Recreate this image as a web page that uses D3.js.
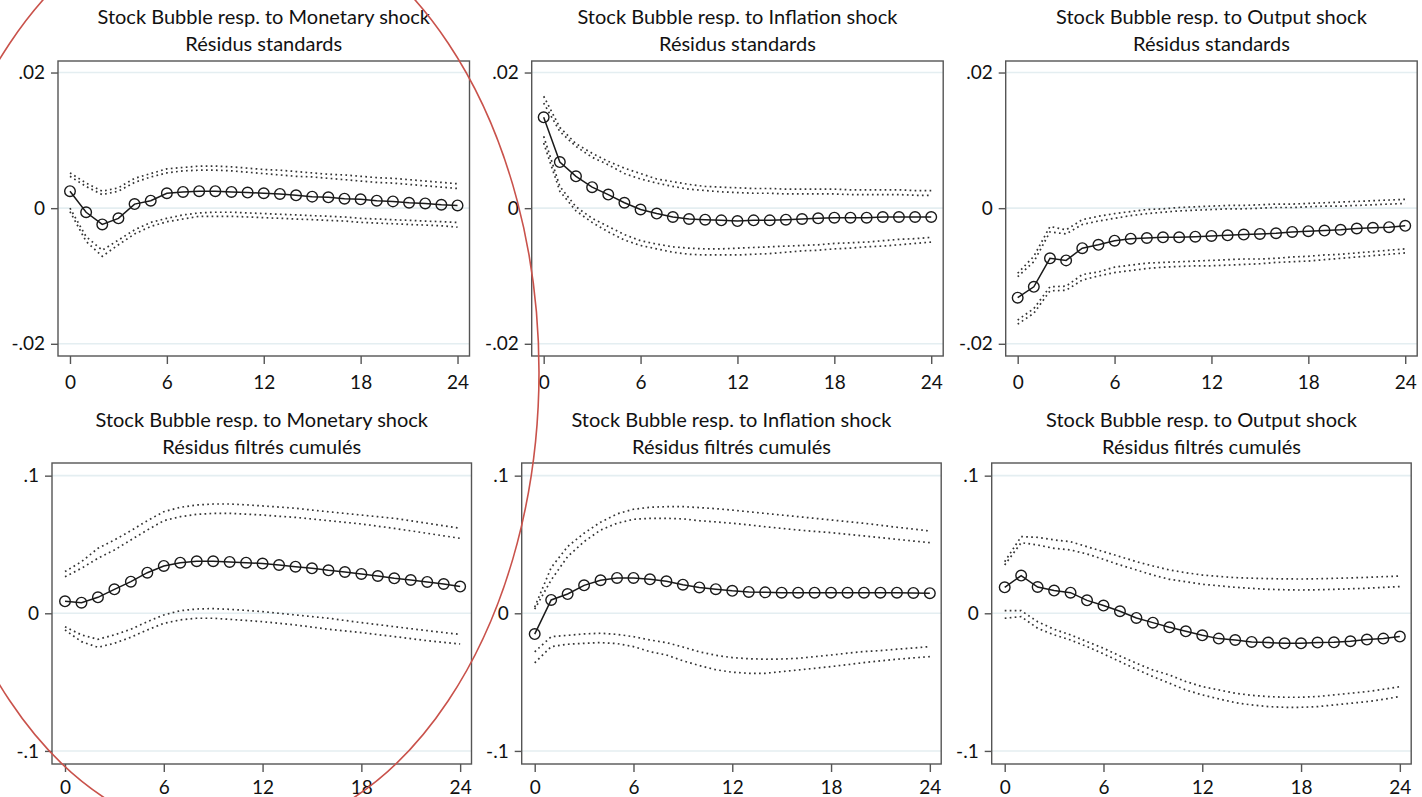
<!DOCTYPE html>
<html>
<head>
<meta charset="utf-8">
<script src="https://cdn.jsdelivr.net/npm/d3@7"></script>
<style>
  html, body { margin: 0; padding: 0; background: #ffffff; }
  svg { display: block; }
  text { font-family: Lato, "Open Sans", sans-serif; fill: #111; }
</style>
</head>
<body>
<script>
// ---------------- DATA ----------------
const steps = [0,1,2,3,4,5,6,7,8,9,10,11,12,13,14,15,16,17,18,19,20,21,22,23,24];
const xTickValues = [0, 6, 12, 18, 24];
const yTicksStd = [-0.02, 0, 0.02];
const yTickLabelsStd = ["-.02", "0", ".02"];
const yTicksCum = [-0.1, 0, 0.1];
const yTickLabelsCum = ["-.1", "0", ".1"];

const titlesLine1 = [
  "Stock Bubble resp. to Monetary shock",
  "Stock Bubble resp. to Inflation shock",
  "Stock Bubble resp. to Output shock"
];
const titlesLine2 = ["Résidus standards", "Résidus filtrés cumulés"];

// Top row: Résidus standards
const monStdIrf     = [0.0025,-0.0006,-0.0024,-0.0015,0.0006,0.0011,0.0022,0.0024,0.0025,0.0025,0.0024,0.0023,0.0022,0.0021,0.0019,0.0017,0.0016,0.0014,0.0013,0.0011,0.0010,0.0008,0.0007,0.0005,0.0004];
const monStdUpOuter = [0.0052,0.0037,0.0025,0.0030,0.0044,0.0051,0.0058,0.0060,0.0062,0.0062,0.0061,0.0059,0.0057,0.0056,0.0054,0.0052,0.0050,0.0049,0.0047,0.0045,0.0044,0.0042,0.0040,0.0038,0.0036];
const monStdUpInner = [0.0047,0.0032,0.0020,0.0025,0.0038,0.0046,0.0052,0.0055,0.0056,0.0056,0.0055,0.0053,0.0051,0.0049,0.0047,0.0046,0.0044,0.0042,0.0040,0.0038,0.0037,0.0035,0.0033,0.0031,0.0029];
const monStdLoInner = [0.0000,-0.0042,-0.0062,-0.0047,-0.0032,-0.0021,-0.0015,-0.0010,-0.0007,-0.0006,-0.0006,-0.0007,-0.0008,-0.0009,-0.0010,-0.0011,-0.0012,-0.0013,-0.0015,-0.0016,-0.0017,-0.0018,-0.0019,-0.0020,-0.0021];
const monStdLoOuter = [-0.0005,-0.0049,-0.0071,-0.0054,-0.0038,-0.0027,-0.0020,-0.0016,-0.0012,-0.0012,-0.0012,-0.0013,-0.0014,-0.0015,-0.0016,-0.0017,-0.0018,-0.0019,-0.0021,-0.0022,-0.0023,-0.0024,-0.0025,-0.0026,-0.0028];

const infStdIrf     = [0.0134,0.0068,0.0047,0.0031,0.0020,0.0008,-0.0002,-0.0008,-0.0013,-0.0016,-0.0017,-0.0018,-0.0019,-0.0018,-0.0018,-0.0017,-0.0016,-0.0015,-0.0014,-0.0014,-0.0014,-0.0013,-0.0013,-0.0013,-0.0013];
const infStdUpOuter = [0.0165,0.0119,0.0095,0.0081,0.0069,0.0059,0.0051,0.0043,0.0039,0.0035,0.0032,0.0031,0.0030,0.0029,0.0029,0.0028,0.0028,0.0028,0.0028,0.0027,0.0027,0.0027,0.0027,0.0026,0.0026];
const infStdUpInner = [0.0155,0.0113,0.0091,0.0075,0.0064,0.0051,0.0043,0.0037,0.0032,0.0028,0.0026,0.0024,0.0023,0.0022,0.0022,0.0021,0.0021,0.0021,0.0021,0.0020,0.0020,0.0020,0.0020,0.0019,0.0019];
const infStdLoInner = [0.0106,0.0032,0.0002,-0.0015,-0.0027,-0.0039,-0.0048,-0.0053,-0.0057,-0.0059,-0.0060,-0.0060,-0.0059,-0.0058,-0.0057,-0.0056,-0.0055,-0.0054,-0.0052,-0.0051,-0.0050,-0.0048,-0.0046,-0.0045,-0.0043];
const infStdLoOuter = [0.0096,0.0025,-0.0004,-0.0021,-0.0035,-0.0047,-0.0055,-0.0060,-0.0065,-0.0068,-0.0069,-0.0069,-0.0069,-0.0068,-0.0067,-0.0065,-0.0063,-0.0062,-0.0060,-0.0059,-0.0057,-0.0056,-0.0054,-0.0052,-0.0050];

const outStdIrf     = [-0.0132,-0.0116,-0.0074,-0.0077,-0.0059,-0.0054,-0.0048,-0.0045,-0.0044,-0.0043,-0.0043,-0.0042,-0.0041,-0.0040,-0.0039,-0.0038,-0.0037,-0.0035,-0.0034,-0.0033,-0.0032,-0.0030,-0.0029,-0.0028,-0.0026];
const outStdUpOuter = [-0.0096,-0.0071,-0.0027,-0.0032,-0.0017,-0.0012,-0.0008,-0.0005,-0.0002,-0.0001,0.0001,0.0002,0.0003,0.0004,0.0004,0.0005,0.0006,0.0006,0.0007,0.0008,0.0009,0.0010,0.0011,0.0012,0.0013];
const outStdUpInner = [-0.0101,-0.0079,-0.0035,-0.0038,-0.0024,-0.0019,-0.0015,-0.0011,-0.0008,-0.0006,-0.0004,-0.0003,-0.0002,-0.0001,-0.0001,0.0000,0.0001,0.0001,0.0002,0.0003,0.0003,0.0004,0.0005,0.0006,0.0007];
const outStdLoInner = [-0.0165,-0.0148,-0.0116,-0.0115,-0.0098,-0.0094,-0.0087,-0.0084,-0.0081,-0.0080,-0.0079,-0.0078,-0.0077,-0.0076,-0.0075,-0.0075,-0.0074,-0.0072,-0.0071,-0.0069,-0.0068,-0.0066,-0.0064,-0.0062,-0.0060];
const outStdLoOuter = [-0.0171,-0.0155,-0.0122,-0.0121,-0.0106,-0.0100,-0.0095,-0.0092,-0.0089,-0.0087,-0.0086,-0.0085,-0.0085,-0.0084,-0.0083,-0.0082,-0.0080,-0.0079,-0.0078,-0.0076,-0.0074,-0.0072,-0.0070,-0.0068,-0.0066];

// Bottom row: Résidus filtrés cumulés
const monCumIrf     = [0.0087,0.0077,0.0116,0.0174,0.0230,0.0295,0.0344,0.0368,0.0378,0.0378,0.0373,0.0368,0.0361,0.0351,0.0339,0.0327,0.0312,0.0300,0.0286,0.0271,0.0254,0.0242,0.0228,0.0213,0.0194];
const monCumUpOuter = [0.0303,0.0375,0.0472,0.0533,0.0600,0.0673,0.0738,0.0770,0.0787,0.0794,0.0794,0.0788,0.0780,0.0772,0.0763,0.0750,0.0738,0.0726,0.0714,0.0702,0.0690,0.0672,0.0654,0.0636,0.0617];
const monCumUpInner = [0.0266,0.0327,0.0400,0.0460,0.0533,0.0605,0.0673,0.0702,0.0719,0.0726,0.0726,0.0720,0.0714,0.0705,0.0697,0.0685,0.0673,0.0661,0.0649,0.0633,0.0617,0.0599,0.0581,0.0563,0.0545];
const monCumLoInner = [-0.0097,-0.0157,-0.0189,-0.0157,-0.0116,-0.0061,-0.0012,0.0019,0.0031,0.0034,0.0029,0.0021,0.0012,0.0000,-0.0012,-0.0024,-0.0036,-0.0052,-0.0068,-0.0082,-0.0097,-0.0112,-0.0126,-0.0140,-0.0153];
const monCumLoOuter = [-0.0121,-0.0206,-0.0247,-0.0218,-0.0174,-0.0121,-0.0073,-0.0048,-0.0036,-0.0036,-0.0044,-0.0052,-0.0061,-0.0073,-0.0085,-0.0100,-0.0116,-0.0128,-0.0140,-0.0155,-0.0169,-0.0184,-0.0199,-0.0211,-0.0223];

const infCumIrf     = [-0.0151,0.0097,0.0140,0.0203,0.0240,0.0257,0.0257,0.0247,0.0232,0.0208,0.0188,0.0175,0.0163,0.0155,0.0152,0.0150,0.0150,0.0150,0.0150,0.0150,0.0150,0.0150,0.0150,0.0148,0.0146];
const infCumUpOuter = [0.0045,0.0332,0.0485,0.0582,0.0662,0.0722,0.0756,0.0770,0.0775,0.0775,0.0768,0.0760,0.0750,0.0738,0.0726,0.0714,0.0702,0.0690,0.0678,0.0666,0.0654,0.0640,0.0625,0.0612,0.0598];
const infCumUpInner = [0.0030,0.0242,0.0412,0.0521,0.0605,0.0654,0.0683,0.0690,0.0690,0.0686,0.0673,0.0664,0.0654,0.0642,0.0629,0.0617,0.0605,0.0595,0.0586,0.0574,0.0562,0.0550,0.0537,0.0525,0.0513];
const infCumLoInner = [-0.0280,-0.0170,-0.0160,-0.0150,-0.0145,-0.0153,-0.0170,-0.0194,-0.0213,-0.0245,-0.0280,-0.0305,-0.0322,-0.0330,-0.0334,-0.0332,-0.0327,-0.0315,-0.0303,-0.0290,-0.0278,-0.0271,-0.0261,-0.0252,-0.0242];
const infCumLoOuter = [-0.0360,-0.0242,-0.0225,-0.0218,-0.0213,-0.0220,-0.0242,-0.0279,-0.0303,-0.0345,-0.0380,-0.0410,-0.0428,-0.0436,-0.0436,-0.0424,-0.0412,-0.0400,-0.0387,-0.0373,-0.0358,-0.0346,-0.0334,-0.0324,-0.0315];

const outCumIrf     = [0.0189,0.0274,0.0191,0.0165,0.0150,0.0094,0.0056,0.0015,-0.0034,-0.0068,-0.0102,-0.0131,-0.0160,-0.0184,-0.0194,-0.0208,-0.0213,-0.0218,-0.0218,-0.0213,-0.0211,-0.0203,-0.0191,-0.0184,-0.0169];
const outCumUpOuter = [0.0375,0.0557,0.0552,0.0533,0.0520,0.0484,0.0448,0.0412,0.0375,0.0344,0.0315,0.0295,0.0278,0.0268,0.0259,0.0255,0.0252,0.0250,0.0249,0.0251,0.0254,0.0257,0.0261,0.0266,0.0271];
const outCumUpInner = [0.0351,0.0513,0.0496,0.0472,0.0460,0.0431,0.0392,0.0351,0.0315,0.0278,0.0247,0.0230,0.0211,0.0200,0.0189,0.0181,0.0174,0.0171,0.0169,0.0171,0.0174,0.0178,0.0182,0.0188,0.0194];
const outCumLoInner = [0.0019,0.0019,-0.0061,-0.0116,-0.0157,-0.0206,-0.0254,-0.0310,-0.0363,-0.0412,-0.0448,-0.0496,-0.0533,-0.0557,-0.0581,-0.0596,-0.0605,-0.0610,-0.0610,-0.0605,-0.0593,-0.0581,-0.0569,-0.0552,-0.0533];
const outCumLoOuter = [-0.0036,-0.0024,-0.0109,-0.0157,-0.0194,-0.0242,-0.0295,-0.0351,-0.0407,-0.0460,-0.0508,-0.0557,-0.0593,-0.0622,-0.0649,-0.0666,-0.0678,-0.0683,-0.0683,-0.0678,-0.0666,-0.0654,-0.0642,-0.0625,-0.0605];

// ---------------- LAYOUT ----------------
const W = 1422, H = 797;
const rows = [
  { lefts: [58, 531.7, 1005.7], width: 411.5, top: 61, bottom: 356,
    yDomain: [-0.0218, 0.0217], xDomain: [-0.742, 24.742], xPad: 12,
    ticks: yTicksStd, labels: yTickLabelsStd, t1y: 24, t2y: 51, sub: titlesLine2[0] },
  { lefts: [52, 521.7, 991.7], width: 419.5, top: 463, bottom: 764,
    yDomain: [-0.1095, 0.1092], xDomain: [-0.79, 24.69], xPad: 9,
    ticks: yTicksCum, labels: yTickLabelsCum, t1y: 427, t2y: 454, sub: titlesLine2[1] }
];

const panels = [
  { r: 0, c: 0, irf: monStdIrf, bands: [monStdUpOuter, monStdUpInner, monStdLoInner, monStdLoOuter] },
  { r: 0, c: 1, irf: infStdIrf, bands: [infStdUpOuter, infStdUpInner, infStdLoInner, infStdLoOuter] },
  { r: 0, c: 2, irf: outStdIrf, bands: [outStdUpOuter, outStdUpInner, outStdLoInner, outStdLoOuter] },
  { r: 1, c: 0, irf: monCumIrf, bands: [monCumUpOuter, monCumUpInner, monCumLoInner, monCumLoOuter] },
  { r: 1, c: 1, irf: infCumIrf, bands: [infCumUpOuter, infCumUpInner, infCumLoInner, infCumLoOuter] },
  { r: 1, c: 2, irf: outCumIrf, bands: [outCumUpOuter, outCumUpInner, outCumLoInner, outCumLoOuter] }
];

const svg = d3.select("body").append("svg").attr("width", W).attr("height", H);
svg.append("rect").attr("width", W).attr("height", H).attr("fill", "#ffffff");

panels.forEach(p => {
  const R = rows[p.r];
  const left = R.lefts[p.c], right = left + R.width;
  const x = d3.scaleLinear().domain(R.xDomain).range([left, right]);
  const y = d3.scaleLinear().domain(R.yDomain).range([R.bottom, R.top]);
  const g = svg.append("g");
  const cx = (left + right) / 2;

  // titles
  g.append("text").attr("x", cx).attr("y", R.t1y).attr("text-anchor", "middle")
    .attr("font-size", 20).text(titlesLine1[p.c]);
  g.append("text").attr("x", cx).attr("y", R.t2y).attr("text-anchor", "middle")
    .attr("font-size", 20).text(R.sub);

  // gridlines
  g.selectAll("line.grid").data(R.ticks).enter().append("line")
    .attr("class", "grid")
    .attr("x1", left).attr("x2", right)
    .attr("y1", d => y(d)).attr("y2", d => y(d))
    .attr("stroke", "#e4eef1").attr("stroke-width", 1.6);

  // axes
  const yAxis = d3.axisLeft(y).tickValues(R.ticks).tickSize(7).tickPadding(6)
    .tickFormat((d, i) => R.labels[i]);
  const ya = g.append("g").attr("transform", `translate(${left},0)`).call(yAxis);
  const xAxis = d3.axisBottom(x).tickValues(xTickValues).tickSize(8).tickPadding(R.xPad)
    .tickFormat(d3.format("d"));
  const xa = g.append("g").attr("transform", `translate(0,${R.bottom})`).call(xAxis);
  [ya, xa].forEach(a => {
    a.select(".domain").remove();
    a.selectAll(".tick line").attr("stroke", "#555").attr("stroke-width", 1.4);
    a.selectAll(".tick text").attr("font-size", 19).attr("fill", "#111")
      .style("font-family", "Lato, 'Open Sans', sans-serif");
  });

  // confidence bands (dotted)
  const line = d3.line().x((d, i) => x(steps[i])).y(d => y(d));
  p.bands.forEach(b => {
    g.append("path").datum(b).attr("d", line)
      .attr("fill", "none").attr("stroke", "#333").attr("stroke-width", 1.7)
      .attr("stroke-dasharray", "1.7,3.3");
  });

  // IRF line + hollow circles
  g.append("path").datum(p.irf).attr("d", line)
    .attr("fill", "none").attr("stroke", "#1a1a1a").attr("stroke-width", 1.5);
  g.selectAll("circle.pt").data(p.irf).enter().append("circle")
    .attr("class", "pt")
    .attr("cx", (d, i) => x(steps[i])).attr("cy", d => y(d)).attr("r", 5.3)
    .attr("fill", "none").attr("stroke", "#1a1a1a").attr("stroke-width", 1.4);

  // plot frame
  g.append("rect").attr("x", left).attr("y", R.top)
    .attr("width", R.width).attr("height", R.bottom - R.top)
    .attr("fill", "none").attr("stroke", "#555").attr("stroke-width", 1.4);
});

// hand-drawn red annotation ellipse around the left column
svg.append("ellipse").attr("cx", 229).attr("cy", 372).attr("rx", 310).attr("ry", 465)
  .attr("fill", "none").attr("stroke", "#c9524b").attr("stroke-width", 1.6);
</script>
</body>
</html>
